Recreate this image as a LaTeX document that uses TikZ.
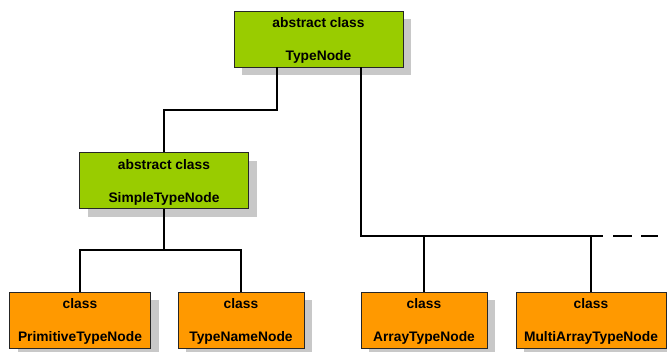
\documentclass[tikz,border=0pt]{standalone}
\usepackage{fontspec}
\setmainfont{Liberation Sans}
\definecolor{absgreen}{HTML}{99CC00}
\definecolor{clsorange}{HTML}{FF9900}
\definecolor{shadowgray}{HTML}{C8C8C8}
\begin{document}
\begin{tikzpicture}[x=1pt,y=-1pt,
  classbox/.style={draw=black!85, line width=0.8pt, minimum height=56pt, inner sep=0pt,
    text depth=0pt, align=center, font=\fontsize{13.8}{33}\selectfont\bfseries,
    preaction={fill=shadowgray, transform canvas={shift={(8pt,-8pt)}}}},
  absbox/.style={classbox, fill=absgreen},
  concbox/.style={classbox, fill=clsorange},
  link/.style={line width=2pt, black}]
\useasboundingbox (0,0) rectangle (667,351);
\node[absbox, minimum width=169pt] (tn) at (318.5,39) {abstract class\\TypeNode};
\node[absbox, minimum width=169pt] (stn) at (164,180.5) {abstract class\\SimpleTypeNode};
\node[concbox, minimum width=141pt] (ptn) at (80,320) {class\\PrimitiveTypeNode};
\node[concbox, minimum width=126pt] (tnn) at (241,320) {class\\TypeNameNode};
\node[concbox, minimum width=126pt] (atn) at (424,320) {class\\ArrayTypeNode};
\node[concbox, minimum width=150pt] (matn) at (591,320) {class\\MultiArrayTypeNode};
\coordinate (j1) at (277,110);
\coordinate (j2) at (164,250);
\coordinate (j3) at (361,236);
\coordinate (j4) at (603,236);
\coordinate (j5) at (658,236);
\draw[link] (tn.south -| j1) -- (j1) -| (stn.north);
\draw[link] (stn.south) -- (j2);
\draw[link] (ptn.north) |- (j2) -| (tnn.north);
\draw[link] (tn.south -| j3) -- (j3) -- (j4);
\draw[link] (atn.north) -- (atn.north |- j3);
\draw[link] (matn.north) -- (matn.north |- j3);
\draw[link, dash pattern=on 0pt off 10pt on 19pt off 9pt on 17pt off 20pt] (j4) -- (j5);
\end{tikzpicture}
\end{document}
